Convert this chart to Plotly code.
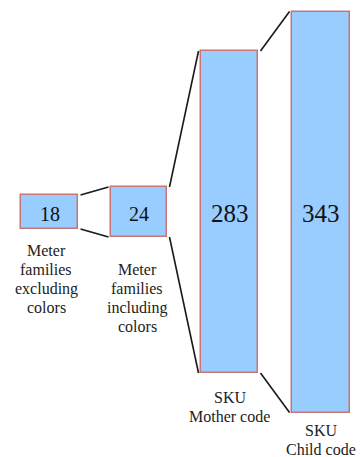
import plotly.graph_objects as go

# ---- data ----
values = [18, 24, 283, 343]
labels = [
    ["Meter", "families", "excluding", "colors"],
    ["Meter", "families", "including", "colors"],
    ["SKU", "Mother code"],
    ["SKU", "Child code"],
]

# ---- layout (display geometry, pixel-like units) ----
W, H = 362, 457
centers_x = [49.5, 139, 229.5, 321]
widths = [57, 56, 57, 58]
heights = [34, 50, 322, 401]
center_y = 212
num_sizes = [20, 20, 25, 25]
label_x = [46, 137, 229.5, 321]
label_first_y = [250, 269, 397, 430]
line_step = 19.3
gap = 2.5

fill = "#99CCFF"
edge = "#C97575"
font_family = "Times New Roman"

tops = [center_y - h / 2 for h in heights]
bottoms = [center_y + h / 2 for h in heights]
lefts = [c - w / 2 for c, w in zip(centers_x, widths)]
rights = [c + w / 2 for c, w in zip(centers_x, widths)]

fig = go.Figure()
fig.add_trace(go.Bar(
    x=centers_x, y=heights, base=tops, width=widths,
    marker=dict(color=fill, line=dict(color=edge, width=1.5)),
    hoverinfo="skip", showlegend=False,
))

# connector lines
for i in range(len(values) - 1):
    for ys in ((tops[i], tops[i + 1]), (bottoms[i], bottoms[i + 1])):
        fig.add_trace(go.Scatter(
            x=[rights[i] + gap, lefts[i + 1] - gap], y=list(ys),
            mode="lines", line=dict(color="#1a1a1a", width=1.6),
            hoverinfo="skip", showlegend=False,
        ))

annotations = []
for i, v in enumerate(values):
    annotations.append(dict(
        x=centers_x[i], y=center_y + 1.5, text=str(v), showarrow=False,
        xanchor="center", yanchor="middle",
        font=dict(family=font_family, size=num_sizes[i], color="#111111"),
    ))
    for j, line in enumerate(labels[i]):
        annotations.append(dict(
            x=label_x[i], y=label_first_y[i] + j * line_step, text=line,
            showarrow=False, xanchor="center", yanchor="middle",
            font=dict(family=font_family, size=16, color="#222222"),
        ))

fig.update_layout(
    width=W, height=H,
    margin=dict(l=0, r=0, t=0, b=0),
    paper_bgcolor="white", plot_bgcolor="white",
    font=dict(family=font_family),
    xaxis=dict(range=[0, W], visible=False, fixedrange=True),
    yaxis=dict(range=[H, 0], visible=False, fixedrange=True),
    annotations=annotations,
    bargap=0,
)

fig.write_html("out.html")
